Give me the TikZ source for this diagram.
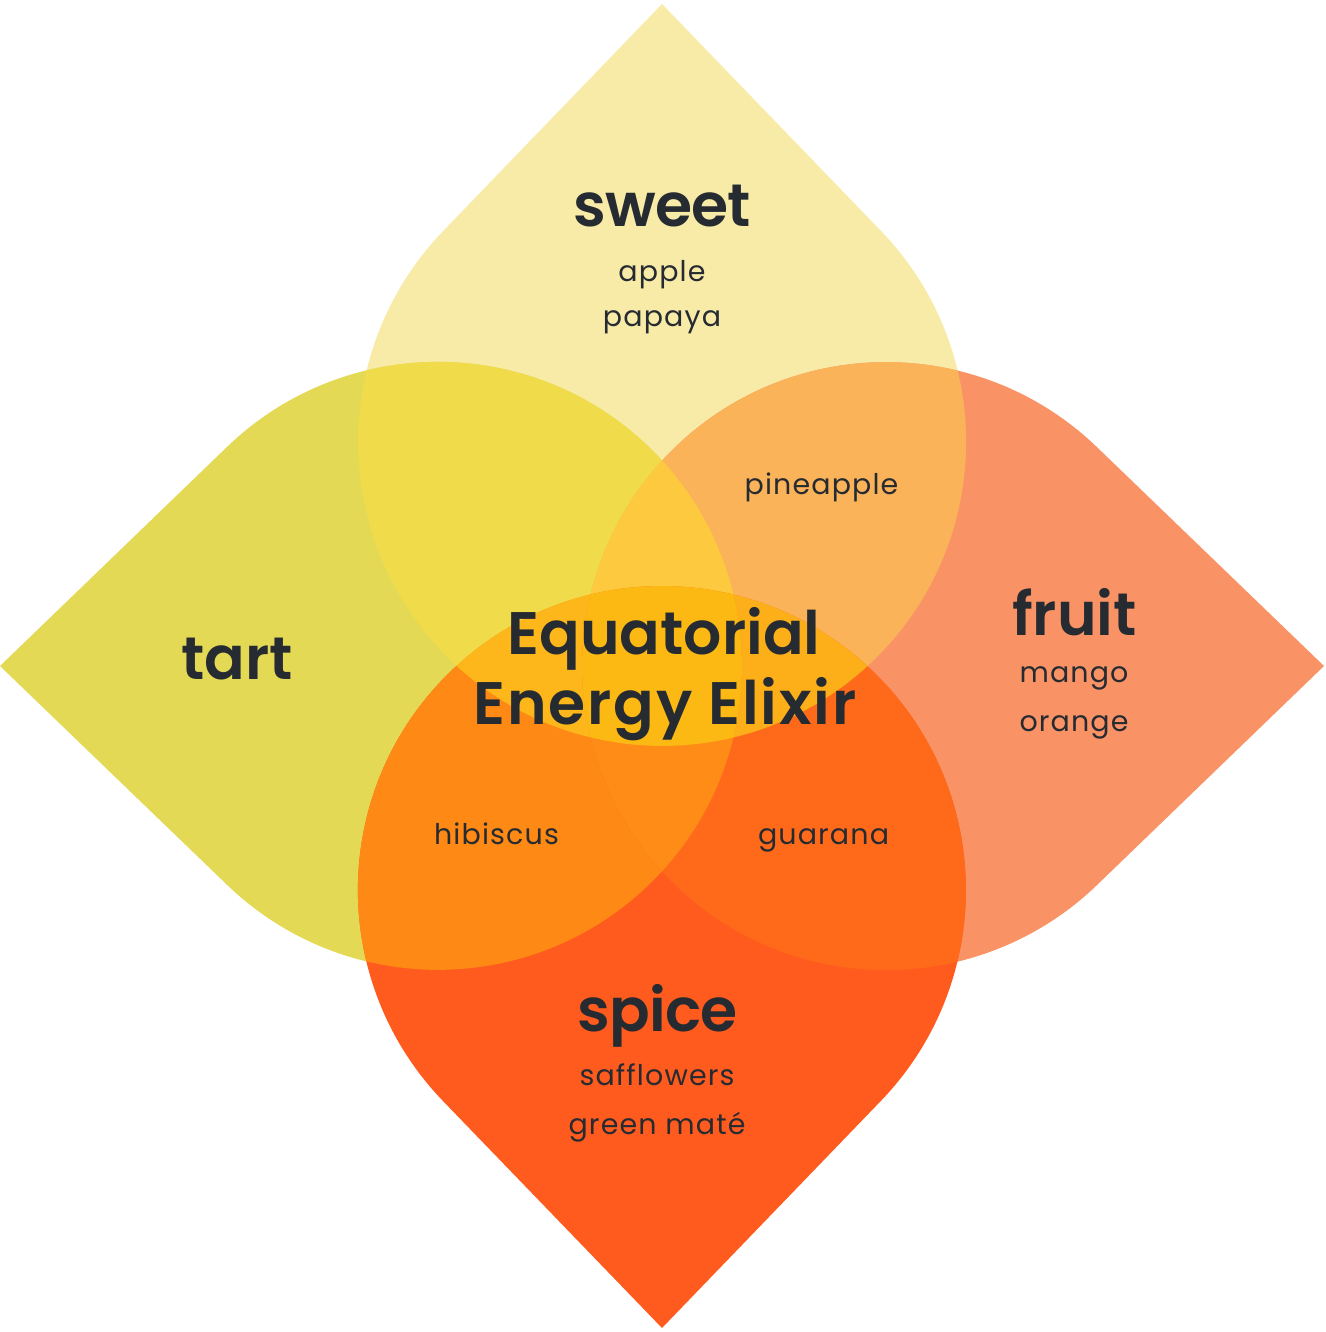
\documentclass[tikz,border=0pt]{standalone}
\usepackage{fontspec}
\setmainfont{Poppins}
\newfontfamily\semibfont{Poppins SemiBold}
\newfontfamily\smallfont[LetterSpace=4]{Poppins}
\definecolor{ink}{HTML}{262B31}
\definecolor{sweetC}{HTML}{F8EBA8}
\definecolor{tartC}{HTML}{E3D955}
\definecolor{fruitC}{HTML}{F99366}
\definecolor{spiceC}{HTML}{FF5B1E}
\definecolor{cST}{HTML}{F0DC4A}
\definecolor{cSF}{HTML}{FBB35A}
\definecolor{cTSp}{HTML}{FE8914}
\definecolor{cFSp}{HTML}{FF6A1A}
\definecolor{cSTF}{HTML}{FDC93E}
\definecolor{cSTSp}{HTML}{FDB71B}
\definecolor{cSFSp}{HTML}{FCAF18}
\definecolor{cTFSp}{HTML}{FE8C16}
\definecolor{cAll}{HTML}{FDB913}
\begin{document}
\begin{tikzpicture}[x=1pt,y=1pt]
\useasboundingbox (0,0) rectangle (1325,1332);
\def\petalpath{(0,662) -- (-218.7,435.1) arc[start angle=136.04, end angle=403.96, radius=304] -- cycle}
\tikzset{
 pS/.style={shift={(662,666)}},
 pT/.style={shift={(662,666)},rotate=90},
 pSp/.style={shift={(662,666)},rotate=180},
 pF/.style={shift={(662,666)},rotate=-90},
 big/.style={font=\semibfont\fontsize{60}{71}\selectfont, text=ink, anchor=base, inner sep=0pt},
 small/.style={font=\smallfont\fontsize{28.5}{32}\selectfont, text=ink, anchor=base, inner sep=0pt}
}
% single petals
\fill[sweetC,pS] \petalpath;
\fill[tartC,pT] \petalpath;
\fill[fruitC,pF] \petalpath;
\fill[spiceC,pSp] \petalpath;
% pairs
\begin{scope}\clip[pS]\petalpath; \fill[cST,pT]\petalpath;\end{scope}
\begin{scope}\clip[pS]\petalpath; \fill[cSF,pF]\petalpath;\end{scope}
\begin{scope}\clip[pT]\petalpath; \fill[cTSp,pSp]\petalpath;\end{scope}
\begin{scope}\clip[pF]\petalpath; \fill[cFSp,pSp]\petalpath;\end{scope}
% triples
\begin{scope}\clip[pS]\petalpath; \clip[pT]\petalpath; \fill[cSTF,pF]\petalpath;\end{scope}
\begin{scope}\clip[pS]\petalpath; \clip[pT]\petalpath; \fill[cSTSp,pSp]\petalpath;\end{scope}
\begin{scope}\clip[pS]\petalpath; \clip[pF]\petalpath; \fill[cSFSp,pSp]\petalpath;\end{scope}
\begin{scope}\clip[pT]\petalpath; \clip[pF]\petalpath; \fill[cTFSp,pSp]\petalpath;\end{scope}
% all four
\begin{scope}\clip[pS]\petalpath; \clip[pT]\petalpath; \clip[pF]\petalpath; \fill[cAll,pSp]\petalpath;\end{scope}
% labels
\node[big] (sweet) at (662,1105) {\addfontfeature{LetterSpace=-1.5}sweet};
\node[small] (apple) at (662,1050) {apple};
\node[small] (papaya) at (662,1005) {papaya};
\node[big] (tart) at (237,652) {tart};
\node[big] (fruit) at (1074.5,696) {fruit};
\node[small] (mango) at (1074,649) {mango};
\node[small] (orange) at (1074,600) {orange};
\node[big] (spice) at (657.5,300) {\addfontfeature{LetterSpace=-1.5}spice};
\node[small] (safflowers) at (657,246) {safflowers};
\node[small] (mate) at (657,197) {green maté};
\node[big] (title1) at (664,677) {Equatorial};
\node[big] (title2) at (665,607) {\addfontfeature{LetterSpace=3}Energy Elixir};
\node[small] (pineapple) at (821.5,837) {pineapple};
\node[small] (hibiscus) at (496.5,487) {hibiscus};
\node[small] (guarana) at (823.5,487) {guarana};
\end{tikzpicture}
\end{document}
